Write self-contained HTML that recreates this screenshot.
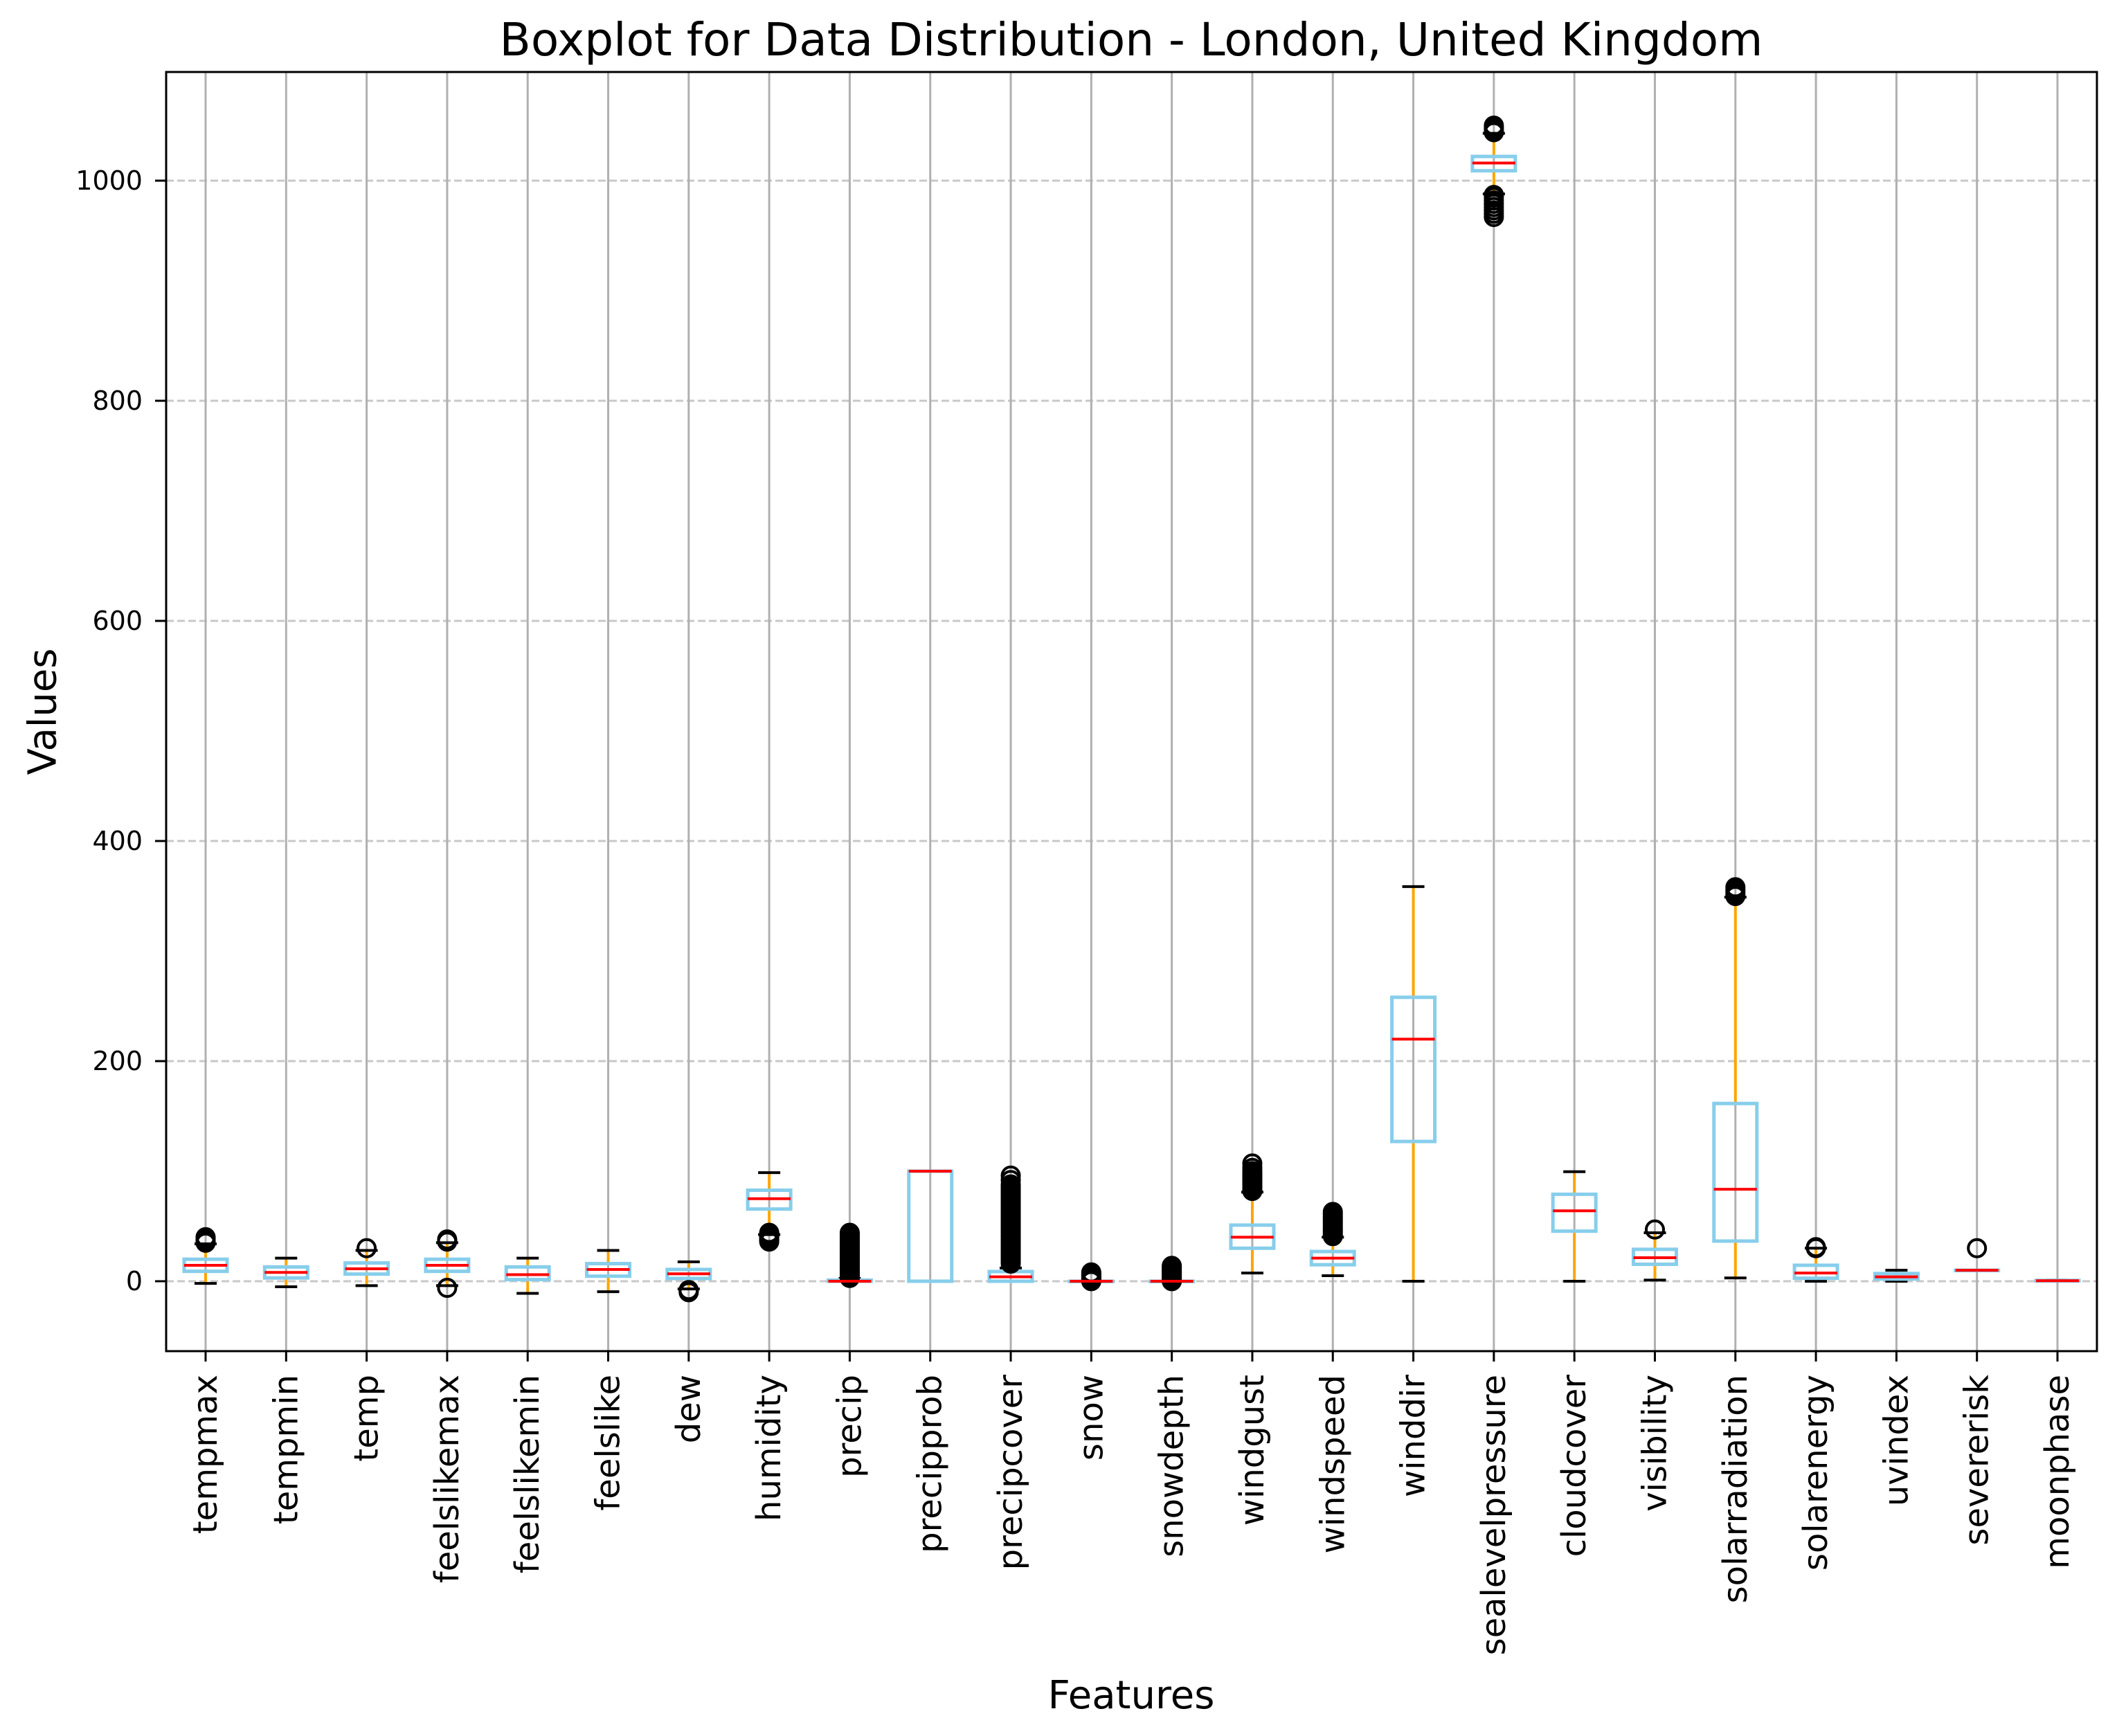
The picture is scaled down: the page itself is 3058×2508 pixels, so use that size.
<!DOCTYPE html>
<html><head><meta charset="utf-8">
<style>
html,body{margin:0;padding:0;background:#fff;}
svg{display:block;}
text{font-family:"DejaVu Sans","Liberation Sans",sans-serif;fill:#000;}
</style></head>
<body>
<svg id="chart" width="3058" height="2508" viewBox="0 0 3058 2508" xmlns="http://www.w3.org/2000/svg">
<rect x="0" y="0" width="3058" height="2508" fill="#fff"/>
<g id="grid"></g>
<g id="boxes"></g>
<g id="axes"></g>
<text x="1634" y="80" font-size="66" text-anchor="middle">Boxplot for Data Distribution - London, United Kingdom</text>
<text x="1634" y="2468" font-size="56" text-anchor="middle">Features</text>
<text transform="translate(62,1028) rotate(-90)" font-size="56" text-anchor="middle" dominant-baseline="central">Values</text>
</svg>
<script>
const categories=["tempmax","tempmin","temp","feelslikemax","feelslikemin","feelslike","dew","humidity","precip","precipprob","precipcover","snow","snowdepth","windgust","windspeed","winddir","sealevelpressure","cloudcover","visibility","solarradiation","solarenergy","uvindex","severerisk","moonphase"];
const q1s=[9,3,6.5,9,1.5,4.6,2.5,65.6,0,0,0,0,0,30,15,127,1009,45.5,15.4,36.5,2.7,2,10,0.25];
const medians=[14.5,8,11.3,14.5,6,10.7,6.8,75,0,100,4,0,0,40,21,220,1016,64,21.4,83.6,7.5,4,10,0.5];
const q3s=[20,13,16.6,20,13,16,10.7,82.7,1,100,8.8,0,0,51,27,258,1022,79,29,161.5,14.5,7,10,0.75];
const whiskerLows=[-2,-5,-4,-4,-11,-9.5,-7,42.4,0,0,0,0,0,7.5,5,0,988,0,1,3,0,0,10,0];
const whiskerHighs=[34,21,28,35,21,28,17.6,98.7,2.5,100,12,0,0,81,40,358.6,1043,99.5,44,349,30,10,10,1];
const outliers=[
 [35,36,37,38,39,40],[],[30],[36,37,38,-6],[],[],[-8,-9,-10],
 [36,37,38,39,40,41,42,44],
 [3,4,5,6,7,8,9,10,11,12,13,14,15,16,17,18,19,20,21,22,23,24,25,26,27,28,29,30,31,32,33,34,35,36,37,38,39,40,41,42,43,44],
 [],
 [16,18,20,22,24,26,28,30,32,34,36,38,40,42,44,46,48,50,52,54,56,58,60,62,64,66,68,70,72,74,76,78,80,82,84,86,88,92,96],
 [0.1,1,2,3,4,5,6,7,8],
 [0.1,1,2,3,4,5,6,7,8,9,10,11,12,13,14],
 [82,84,86,88,90,92,94,96,98,100,103,107],
 [41,43,45,47,49,51,53,55,57,59,61,63],
 [],
 [967,970,973,976,979,982,985,987,1044,1046,1048,1050],
 [],[47],[350,352,354,356,358],[30,31],[],[30],[]
];
const yTicks=[0,200,400,600,800,1000];

const NS="http://www.w3.org/2000/svg";
const L=240,R=3029,T=104,B=1952;
const Y0=1851,PX=1.59;
function yScale(v){return Y0-v*PX;}
function xScale(i){return 297+i*(2972-297)/(categories.length-1);}
function mk(tag,attrs,parent){const e=document.createElementNS(NS,tag);for(const k in attrs)e.setAttribute(k,attrs[k]);parent.appendChild(e);return e;}
const grid=document.getElementById('grid'),boxes=document.getElementById('boxes'),axes=document.getElementById('axes');

yTicks.forEach(v=>{
  const g=mk('line',{x1:L,x2:R,y1:yScale(v),y2:yScale(v),stroke:'#c8c8c8','stroke-width':3,'stroke-dasharray':'11,5'},grid);
  
  
});
categories.forEach((c,i)=>{
  const g=mk('line',{x1:xScale(i),x2:xScale(i),y1:T,y2:B,stroke:'#b0b0b0','stroke-width':3},grid);
  
  
});

const BW=62,CW=32;
categories.forEach((c,i)=>{
  const x=xScale(i);
  const g=mk('g',{},boxes);
  
  
  mk('line',{x1:x,x2:x,y1:yScale(q3s[i]),y2:yScale(whiskerHighs[i]),stroke:'orange','stroke-width':4},g);
  mk('line',{x1:x,x2:x,y1:yScale(q1s[i]),y2:yScale(whiskerLows[i]),stroke:'orange','stroke-width':4},g);
  mk('line',{x1:x-CW/2,x2:x+CW/2,y1:yScale(whiskerHighs[i]),y2:yScale(whiskerHighs[i]),stroke:'#000','stroke-width':4},g);
  mk('line',{x1:x-CW/2,x2:x+CW/2,y1:yScale(whiskerLows[i]),y2:yScale(whiskerLows[i]),stroke:'#000','stroke-width':4},g);
  const top=yScale(q3s[i]),bot=yScale(q1s[i]);
  mk('rect',{x:x-BW/2,y:top,width:BW,height:Math.max(bot-top,0.5),fill:'none',stroke:'#87ceeb','stroke-width':5},g);
  outliers[i].forEach(v=>{
    const o=mk('circle',{cx:x,cy:yScale(v),r:12.5,fill:'none',stroke:'#000','stroke-width':4},g);
    
    
  });
  mk('line',{x1:x-BW/2,x2:x+BW/2,y1:yScale(medians[i]),y2:yScale(medians[i]),stroke:'red','stroke-width':4},g);
});

const frame=mk('rect',{x:L,y:T,width:R-L,height:B-T,fill:'none',stroke:'#000','stroke-width':3},axes);


yTicks.forEach(v=>{
  mk('line',{x1:L-16,x2:L,y1:yScale(v),y2:yScale(v),stroke:'#000','stroke-width':3},axes);
  const t=mk('text',{x:206,y:yScale(v),'font-size':38,'text-anchor':'end','dominant-baseline':'central'},axes);
  t.textContent=v;
  
  
});
categories.forEach((c,i)=>{
  const x=xScale(i);
  mk('line',{x1:x,x2:x,y1:B,y2:B+15,stroke:'#000','stroke-width':3},axes);
  const t=mk('text',{transform:'translate('+x+',1986) rotate(-90)','font-size':48,'text-anchor':'end','dominant-baseline':'central'},axes);
  t.textContent=c;
  
  
});
</script>
</body></html>
